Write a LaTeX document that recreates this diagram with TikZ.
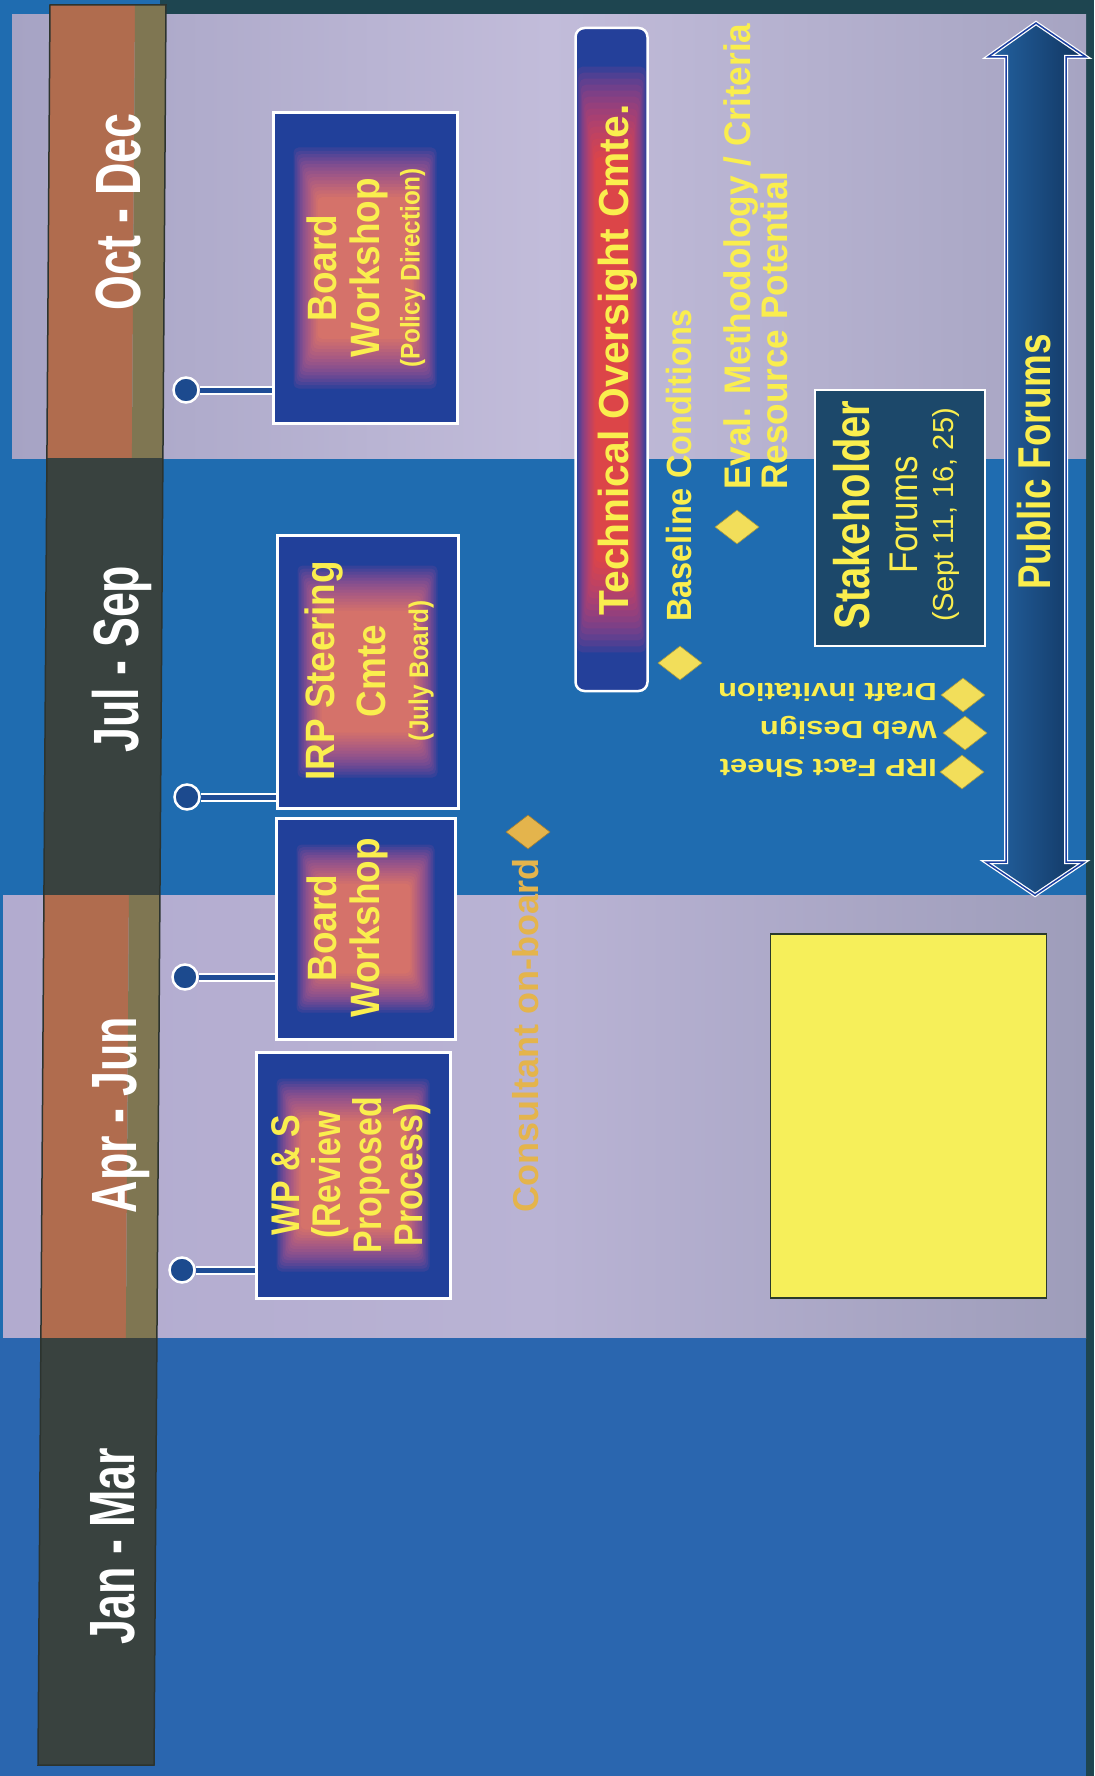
\documentclass[tikz,border=0pt]{standalone}
\usepackage{fontspec}
\setmainfont{Liberation Sans}
\usetikzlibrary{shapes.geometric,calc}
\definecolor{bgblue}{HTML}{1F6CB0}
\definecolor{janblue}{HTML}{2A66AF}
\definecolor{lavA}{HTML}{A6A3C4}
\definecolor{lavB}{HTML}{C2BCDA}
\definecolor{lavC}{HTML}{A6A4C2}
\definecolor{lavD}{HTML}{B2ABCF}
\definecolor{lavE}{HTML}{9E9DBA}
\definecolor{lavF}{HTML}{B9B3D4}
\definecolor{hdrorange}{HTML}{B06C4E}
\definecolor{hdrolive}{HTML}{7F7652}
\definecolor{hdrdark}{HTML}{39423F}
\definecolor{hdredge}{HTML}{2C332E}
\definecolor{topdark}{HTML}{1E4550}
\definecolor{boxblue}{HTML}{21409A}
\definecolor{txtyellow}{HTML}{FAEE4E}
\definecolor{gemyellow}{HTML}{F2DE5A}
\definecolor{pinblue}{HTML}{1C4A8E}
\definecolor{stemblue}{HTML}{1E4C96}
\definecolor{techblue}{HTML}{24409A}
\definecolor{stakeblue}{HTML}{1C486A}
\definecolor{arrowL}{HTML}{2464A4}
\definecolor{arrowR}{HTML}{11345E}
\definecolor{arrowedge}{HTML}{1B3FA0}
\definecolor{consult}{HTML}{E4B44C}
\definecolor{noteyellow}{HTML}{F6EF5A}
\definecolor{notedge}{HTML}{2A3A2A}
\definecolor{glowor}{HTML}{FF8A55}
\definecolor{glowmg}{HTML}{B04E98}
\definecolor{techred}{HTML}{FF4A2E}
\definecolor{techmg}{HTML}{B0408A}
% glow: node, inset x, inset y, step x, step y, outer colour, inner colour, opacity
\newcommand{\mkglow}[8]{%
  \foreach \i in {0,...,15}{%
    \pgfmathtruncatemacro{\pct}{\i*6.6}%
    \fill[#7!\pct!#6, opacity=#8, rounded corners=5pt]
      ($(#1.north west)+({#2+#4*\i},{#3+#5*\i})$) rectangle
      ($(#1.south east)-({#2+#4*\i},{#3+#5*\i})$);
  }}
\begin{document}
\begin{tikzpicture}[x=1pt,y=-1pt,
  hdrtext/.style={rotate=90, xscale=0.7, inner sep=0pt, text height=46pt, text depth=0pt,
    text=white, font=\fontsize{64}{70}\selectfont\bfseries},
  evbox/.style={draw=white, line width=3pt, fill=boxblue, inner sep=0pt},
  boxtext/.style={rotate=90, xscale=0.9, align=center, text=txtyellow, inner sep=0pt,
    font=\fontsize{41}{43}\selectfont\bfseries},
  pinhead/.style={circle, minimum size=25pt, inner sep=0pt, fill=pinblue, draw=white, line width=2.5pt},
  pinstem/.style={draw=white, line width=2pt, double=stemblue, double distance=5pt},
  gem/.style={diamond, minimum width=44pt, minimum height=34pt, inner sep=0pt,
    fill=gemyellow, draw=gemyellow!70!black, line width=0.6pt},
  ytext/.style={rotate=90, anchor=west, inner sep=0pt, text=txtyellow, text depth=0pt},
  itemtext/.style={rotate=180, yscale=0.8, anchor=west, inner sep=0pt, text height=22pt,
    text depth=0pt, text=txtyellow, font=\fontsize{31}{34}\selectfont\bfseries}
]
\useasboundingbox (0,0) rectangle (1094,1776);
% backgrounds
\fill[bgblue] (0,0) rectangle (1094,1776);
\fill[topdark] (160,0) rectangle (1094,15);
\fill[topdark] (1086,0) rectangle (1094,1776);
\shade[left color=lavA, right color=lavC, middle color=lavB] (12,15) rectangle (1086,458);
\shade[left color=lavD, right color=lavE, middle color=lavF] (3,895) rectangle (1086,1338);
\fill[janblue] (0,1338) rectangle (1086,1776);
% header band
\fill[hdrorange] (50,5) -- (135,5) -- (131.9,458) -- (46.9,458) -- cycle;
\fill[hdrolive] (135,5) -- (166,5) -- (162.9,458) -- (131.9,458) -- cycle;
\fill[hdrdark] (46.9,458) -- (162.9,458) -- (159.9,895) -- (43.9,895) -- cycle;
\fill[hdrorange] (43.9,895) -- (128.9,895) -- (125.9,1338) -- (40.9,1338) -- cycle;
\fill[hdrolive] (128.9,895) -- (159.9,895) -- (156.9,1338) -- (125.9,1338) -- cycle;
\fill[hdrdark] (40.9,1338) -- (156.9,1338) -- (154,1765) -- (38,1765) -- cycle;
\draw[hdredge, line width=1.5pt] (50,5) -- (166,5) -- (154,1765) -- (38,1765) -- cycle;
\node[hdrtext] (hOct) at (117,212) {Oct - Dec};
\node[hdrtext] (hJul) at (115,659) {Jul - Sep};
\node[hdrtext] (hApr) at (113,1115) {Apr - Jun};
\node[hdrtext] (hJan) at (111,1546) {Jan - Mar};
% event boxes
\node[evbox, minimum width=184pt, minimum height=310pt] (b1) at (365,268) {};
\mkglow{b1}{22}{36}{1.6}{3.3}{glowmg}{glowor}{0.15}
\node[boxtext] (t1) at (366,268) {Board\\Workshop\\[-3pt]\fontsize{27}{40}\selectfont(Policy Direction)};
\node[evbox, minimum width=181pt, minimum height=273pt] (b2) at (367.5,671.5) {};
\mkglow{b2}{22}{32}{1.6}{3}{glowmg}{glowor}{0.15}
\node[boxtext] (t2) at (369,671) {IRP Steering\\[8pt]Cmte\\\fontsize{27}{36}\selectfont(July Board)};
\node[evbox, minimum width=179pt, minimum height=221pt] (b3) at (365.5,928.5) {};
\mkglow{b3}{22}{28}{1.6}{2.6}{glowmg}{glowor}{0.15}
\node[boxtext] (t3) at (347,928) {Board\\Workshop};
\node[evbox, minimum width=194pt, minimum height=246pt] (b4) at (353,1175) {};
\mkglow{b4}{22}{28}{1.6}{2.8}{glowmg}{glowor}{0.15}
\node[boxtext, xscale=0.94, font=\fontsize{40}{41}\selectfont\bfseries] (t4) at (351,1175) {WP \& S\\(Review\\Proposed\\Process)};
% pins
\node[pinhead] (p1) at (186,390) {};
\node[pinhead] (p2) at (187,797) {};
\node[pinhead] (p3) at (185,977) {};
\node[pinhead] (p4) at (182,1270) {};
\draw[pinstem] (p1.east) -- (p1 -| b1.west);
\draw[pinstem] (p2.east) -- (p2 -| b2.west);
\draw[pinstem] (p3.east) -- (p3 -| b3.west);
\draw[pinstem] (p4.east) -- (p4 -| b4.west);
% consultant
\node[gem, fill=consult, draw=consult!70!black] (gc) at (528,832) {};
\node[ytext, text=consult, text height=26pt, font=\fontsize{36}{40}\selectfont\bfseries] (tc) at (525,1213) {Consultant on-board};
% technical oversight committee
\node[draw=white, line width=2.5pt, rounded corners=9pt, fill=techblue, minimum width=72pt,
  minimum height=663pt, inner sep=0pt] (tech) at (611.5,359.5) {};
\mkglow{tech}{3}{40}{1.2}{6}{techmg}{techred}{0.17}
\node[rotate=90, xscale=0.97, inner sep=0pt, text height=30pt, text depth=0pt, text=txtyellow,
  font=\fontsize{42}{46}\selectfont\bfseries] (ttech) at (613,360) {Technical Oversight Cmte.};
\node[gem] (g1) at (680,663) {};
\node[ytext, xscale=0.93, text height=25pt, font=\fontsize{35}{38}\selectfont\bfseries] (tb) at (679,622) {Baseline Conditions};
\node[gem] (g2) at (737,527) {};
\node[rotate=90, xscale=0.95, anchor=north west, align=left, inner sep=0pt, text=txtyellow,
  font=\fontsize{37}{37}\selectfont\bfseries] (te) at (723,490) {Eval. Methodology / Criteria\\Resource Potential};
% stakeholder forums
\node[draw=white, line width=2.5pt, fill=stakeblue, minimum width=170pt, minimum height=256pt, inner sep=0pt] (sf) at (900,518) {};
\node[rotate=90, xscale=0.8, inner sep=0pt, text height=36pt, text depth=0pt, text=txtyellow,
  font=\fontsize{50}{54}\selectfont\bfseries] (sf1) at (851,515) {Stakeholder};
\node[rotate=90, xscale=0.87, inner sep=0pt, text height=29pt, text depth=0pt, text=txtyellow,
  font=\fontsize{40}{44}\selectfont] (sf2) at (903,515) {Forums};
\node[rotate=90, inner sep=0pt, text height=21pt, text depth=0pt, text=txtyellow,
  font=\fontsize{29}{32}\selectfont] (sf3) at (943,515) {(Sept 11, 16, 25)};
% items
\node[gem] (g3) at (963,695) {};
\node[gem] (g4) at (965,733) {};
\node[gem] (g5) at (962,772) {};
\node[itemtext] (ti1) at (937,692) {Draft invitation};
\node[itemtext] (ti2) at (937,730) {Web Design};
\node[itemtext] (ti3) at (937,768) {IRP Fact Sheet};
% public forums arrow
\path[left color=arrowL, right color=arrowR]
  (1036,23) -- (1086,57) -- (1066,57) -- (1066,862) -- (1084,862) -- (1035,895)
  -- (986,862) -- (1006,862) -- (1006,57) -- (988,57) -- cycle;
\draw[white, line width=4pt, line join=miter]
  (1036,23) -- (1086,57) -- (1066,57) -- (1066,862) -- (1084,862) -- (1035,895)
  -- (986,862) -- (1006,862) -- (1006,57) -- (988,57) -- cycle;
\draw[arrowedge, line width=1.5pt, line join=miter]
  (1036,23) -- (1086,57) -- (1066,57) -- (1066,862) -- (1084,862) -- (1035,895)
  -- (986,862) -- (1006,862) -- (1006,57) -- (988,57) -- cycle;
\node[rotate=90, xscale=0.8, inner sep=0pt, text height=33pt, text depth=0pt, text=txtyellow,
  font=\fontsize{46}{50}\selectfont\bfseries] (pf) at (1034,462) {Public Forums};
% yellow note
\node[draw=notedge, line width=1.2pt, fill=noteyellow, minimum width=276pt, minimum height=364pt, inner sep=0pt] (note) at (908.5,1116) {};
\end{tikzpicture}
\end{document}
